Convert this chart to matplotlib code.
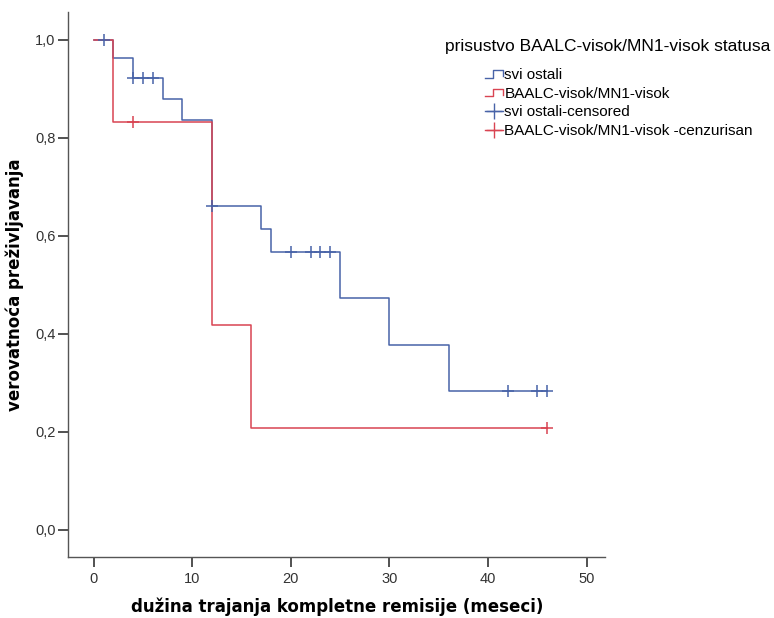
import numpy as np
import matplotlib
matplotlib.use('Agg')
import matplotlib.pyplot as plt
from matplotlib.lines import Line2D
from matplotlib.legend_handler import HandlerBase

plt.rcParams['font.family'] = ['Liberation Sans', 'DejaVu Sans']

# Kaplan-Meier: svi ostali
tBlue = [0, 2, 4, 7, 9, 12, 17, 18, 25, 30, 36, 46]
sBlue = [1.0, 0.962, 0.921, 0.880, 0.836, 0.660, 0.613, 0.566, 0.472, 0.377, 0.283, 0.283]
cBlue = [1, 4, 5, 6, 12, 20, 22, 23, 24, 42, 45, 46]   # cenzurisani

# BAALC-visok/MN1-visok
tRed = [0, 2, 12, 16, 46]
sRed = [1.0, 0.833, 0.417, 0.208, 0.208]
cRed = [4, 46]

xTicks = [0, 10, 20, 30, 40, 50]
yTicks = [0.0, 0.2, 0.4, 0.6, 0.8, 1.0]

legendTitle = 'prisustvo BAALC-visok/MN1-visok statusa'
legendNames = ['svi ostali', 'BAALC-visok/MN1-visok',
               'svi ostali-censored', 'BAALC-visok/MN1-visok -cenzurisan']

BLUE = '#4863a8'
RED = '#d94452'


def survAt(t, times, surv):
    idx = np.searchsorted(times, t, side='right') - 1
    return np.asarray(surv)[idx]


class StepHandler(HandlerBase):
    '''Ikonica u legendi u obliku stepenika'''
    def create_artists(self, legend, orig, xd, yd, w, h, fs, trans):
        xs = [-xd, -xd + 0.45 * w, -xd + 0.45 * w, -xd + w, -xd + w]
        ys = [0.1 * h, 0.1 * h, 0.8 * h, 0.8 * h, 0.25 * h]
        ln = Line2D(xs, ys, color=orig.get_color(), lw=1.0, transform=trans)
        return [ln]


fig = plt.figure(figsize=(7.74, 6.18), dpi=100)
ax = fig.add_axes([0.088, 0.099, 0.694, 0.882])

ax.step(tBlue, sBlue, where='post', color=BLUE, lw=1.1)
ax.step(tRed, sRed, where='post', color=RED, lw=1.1)
ax.plot(cBlue, survAt(cBlue, tBlue, sBlue), '+', color=BLUE, ms=8, mew=1.1)
ax.plot(cRed, survAt(cRed, tRed, sRed), '+', color=RED, ms=8, mew=1.1)

ax.set_xlim(-2.6, 51.9)
ax.set_ylim(-0.055, 1.057)
ax.set_xticks(xTicks)
ax.set_yticks(yTicks)
ax.set_yticklabels([('%.1f' % v).replace('.', ',') for v in yTicks])

for side in ['top', 'right']:
    ax.spines[side].set_visible(False)
for side in ['left', 'bottom']:
    ax.spines[side].set_color('#555555')
    ax.spines[side].set_linewidth(1.0)
ax.tick_params(axis='both', colors='#333333', labelsize=10.5, width=1.2, length=7)
ax.tick_params(axis='y', pad=2)
ax.tick_params(axis='x', pad=4)

ax.set_xlabel('dužina trajanja kompletne remisije (meseci)', family='DejaVu Sans',
              fontsize=12, fontweight='bold', labelpad=8)
ax.set_ylabel('verovatnoća preživljavanja', family='DejaVu Sans',
              fontsize=12, fontweight='bold', labelpad=8)

# Legenda
fig.text(445 / 774, 1 - 47 / 618, legendTitle, fontsize=12.5, va='center', ha='left')
hStepB = Line2D([], [], color=BLUE)
hStepR = Line2D([], [], color=RED)
hCensB = Line2D([], [], color=BLUE, marker='+', ms=11, lw=1.0)
hCensR = Line2D([], [], color=RED, marker='+', ms=11, lw=1.0)
fig.legend([hStepB, hStepR, hCensB, hCensR], legendNames,
           handler_map={hStepB: StepHandler(), hStepR: StepHandler()},
           loc='upper left', bbox_to_anchor=(477 / 774, 1 - 60 / 618),
           frameon=False, fontsize=11, borderpad=0, handlelength=1.2,
           handletextpad=0.1, labelspacing=0.32)

plt.savefig('out.png', dpi=100)
